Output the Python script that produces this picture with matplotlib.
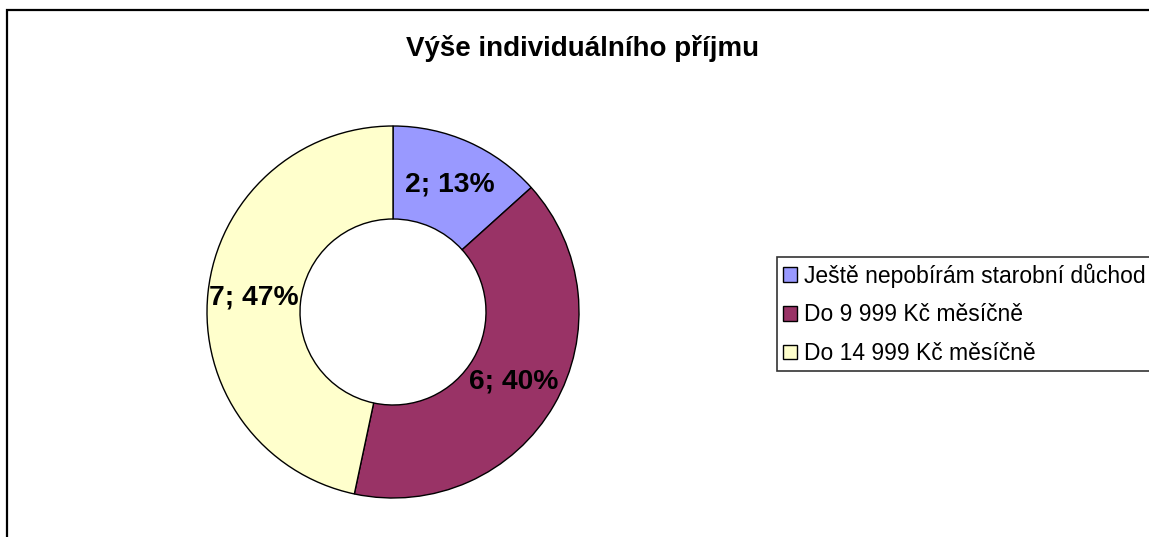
import matplotlib.pyplot as plt
from matplotlib.patches import Rectangle

plt.rcParams['font.family'] = ['Liberation Sans', 'DejaVu Sans']

# data
categories = ['Ještě nepobírám starobní důchod', 'Do 9 999 Kč měsíčně', 'Do 14 999 Kč měsíčně']
counts = [2, 6, 7]
colors = ['#9999FF', '#993366', '#FFFFCC']

W, H = 1149, 537
fig = plt.figure(figsize=(W / 100, H / 100), dpi=100)

# outer frame of the chart area (runs off right and bottom edge)
fig.patches.append(Rectangle((7 / W, -0.2), 1.5, 1.2 - 10 / H, transform=fig.transFigure,
                             fill=False, edgecolor='black', linewidth=1.6, clip_on=False))

fig.text(583 / W, 1 - 48 / H, 'Výše individuálního příjmu', ha='center', va='center',
         fontsize=20, fontweight='bold')

# square axes for the donut
ax = fig.add_axes([207 / W, 1 - 498 / H, 372 / W, 372 / H])
total = sum(counts)


def fmt(pct):
    n = int(round(pct * total / 100.0))
    return '%d; %d%%' % (n, round(pct))


wedges, texts, autotexts = ax.pie(counts, colors=colors, startangle=90, counterclock=False,
                                  radius=1, autopct=fmt, pctdistance=0.75,
                                  wedgeprops=dict(width=0.5, edgecolor='black', linewidth=1),
                                  textprops=dict(fontsize=20.3, fontweight='bold'))
ax.set_xlim(-1, 1)
ax.set_ylim(-1, 1)
ax.set_aspect('equal')
ax.axis('off')

leg = fig.legend(wedges, categories, loc='upper left', bbox_to_anchor=(777 / W, 1 - 257 / H),
                 fontsize=16.5, frameon=True, fancybox=False, edgecolor='black',
                 handlelength=0.6, handleheight=0.6, handletextpad=0.3,
                 labelspacing=0.68, borderpad=0.27, borderaxespad=0)
leg.get_frame().set_linewidth(1.2)

fig.savefig('out.png', dpi=100)
